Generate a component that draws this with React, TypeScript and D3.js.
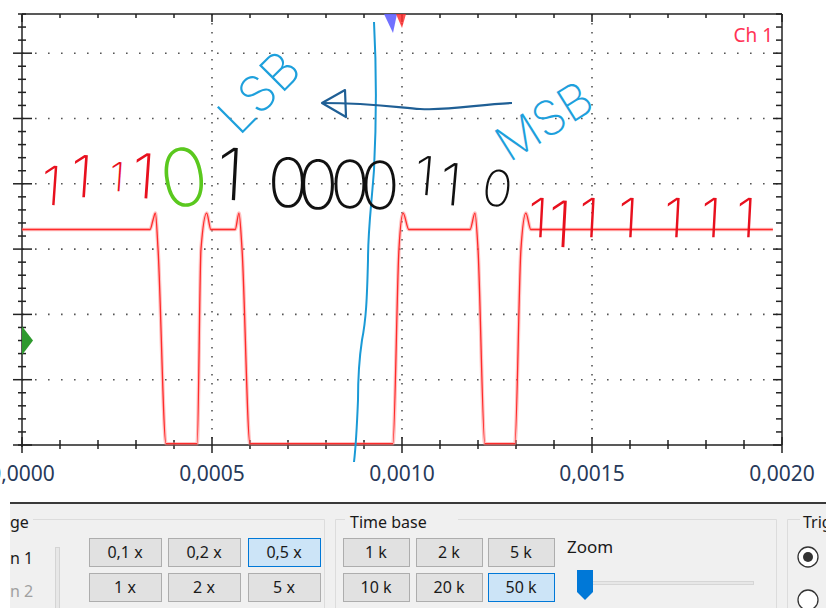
import React from "react";
import * as d3 from "d3";

// oscilloscope trace, Ch 1 (time in s, level in V)
const waveTime = [
  0, 0.000337, 0.000345, 0.000351, 0.000358, 0.000379, 0.000461, 0.000471, 0.000486, 0.000497,
  0.000561, 0.000571, 0.000579, 0.0006, 0.000976, 0.000992, 0.001003, 0.001018, 0.001179,
  0.001192, 0.0012, 0.001218, 0.001297, 0.001313, 0.001326, 0.001339, 0.001976,
];
const waveVolt = [
  3.3, 3.3, 3.45, 3.55, 3.0, 0.02, 0.02, 3.0, 3.55, 3.3, 3.3, 3.55, 3.0, 0.02, 0.02, 3.0, 3.55,
  3.3, 3.3, 3.55, 3.0, 0.02, 0.02, 3.0, 3.55, 3.3, 3.3,
];

const timeTicks = [0, 0.0005, 0.001, 0.0015, 0.002];
const timeLabels = ["0,0000", "0,0005", "0,0010", "0,0015", "0,0020"];
const voltMajors = [1, 2, 3, 4, 5, 6];

const gainButtons = ["0,1 x", "0,2 x", "0,5 x", "1 x", "2 x", "5 x"];
const timeButtons = ["1 k", "2 k", "5 k", "10 k", "20 k", "50 k"];
const gainSelected = "0,5 x";
const timeSelected = "50 k";

const W = 826;
const H = 608;
const L = 22, R = 782, T = 14, B = 445;

const x = d3.scaleLinear().domain([0, 0.002]).range([L, R]);
const y = d3.scaleLinear().domain([0, 6.6]).range([B, T]);

const hand = "Inter, Roboto, 'Noto Sans', sans-serif";
const ui = "'Noto Sans', 'Open Sans', sans-serif";

function Hand({ x, y, size, color, rot = 0, children }: any) {
  return (
    <text
      x={x}
      y={y}
      fontSize={size}
      fill={color}
      fontFamily={hand}
      fontWeight={200}
      textAnchor="middle"
      transform={rot ? `rotate(${rot} ${x} ${y})` : undefined}
    >
      {children}
    </text>
  );
}

function Button({ bx, by, w, label, selected }: any) {
  return (
    <g>
      <rect
        x={bx + 0.5}
        y={by + 0.5}
        width={w}
        height={28}
        fill={selected ? "#cce4f7" : "#e1e1e1"}
        stroke={selected ? "#0078d7" : "#adadad"}
        strokeWidth={1}
      />
      <text x={bx + w / 2} y={by + 20} textAnchor="middle" fontSize={16} fill="#1a1a1a" fontFamily={ui}>
        {label}
      </text>
    </g>
  );
}

export default function App() {
  const pts = waveTime.map((t, i) => [t, waveVolt[i]] as [number, number]);
  const line = d3
    .line<[number, number]>()
    .x((d) => x(d[0]))
    .y((d) => y(d[1]))
    .curve(d3.curveMonotoneX);
  const path = line(pts) || "";

  const xMinor = x.ticks(20);
  const yMinor = y.ticks(33);
  const isMajorY = (v: number) => Math.abs(v - Math.round(v)) < 1e-6;
  const isMajorX = (t: number) => timeTicks.some((m) => Math.abs(m - t) < 1e-9);

  const blueLine = "M374,22 C376,60 377,110 374,170 C371,210 368,230 368,260 C367,300 366,320 362,340 C359,360 358,380 358,400 C357,425 356,445 354,462";

  return (
    <svg width={W} height={H} style={{ position: "absolute", left: 0, top: 0, background: "#fff" }}>
      <rect x={0} y={0} width={W} height={H} fill="#fff" />

      {/* grid */}
      {voltMajors.map((v) => (
        <line key={"gy" + v} x1={L} x2={R} y1={y(v)} y2={y(v)} stroke="#555" strokeWidth={1.6} strokeDasharray="1.6 11.4" />
      ))}
      {timeTicks.slice(1, -1).map((t) => (
        <line key={"gx" + t} x1={x(t)} x2={x(t)} y1={T} y2={B} stroke="#555" strokeWidth={1.6} strokeDasharray="1.6 7.4" />
      ))}

      {/* frame */}
      <line x1={L} x2={R} y1={T} y2={T} stroke="#222" strokeWidth={1.5} />
      <line x1={R} x2={R} y1={T} y2={B} stroke="#222" strokeWidth={1.5} />
      <line x1={L} x2={L} y1={T} y2={B + 2} stroke="#222" strokeWidth={1.5} />
      <line x1={L - 4} x2={R} y1={B} y2={B} stroke="#222" strokeWidth={1.5} />

      {/* ticks */}
      {xMinor.map((t) => {
        const m = isMajorX(t);
        return (
          <g key={"xt" + t}>
            <line x1={x(t)} x2={x(t)} y1={B - (m ? 8 : 5)} y2={B + (m ? 8 : 4)} stroke="#222" strokeWidth={1.5} />
            <line x1={x(t)} x2={x(t)} y1={T} y2={T + (m ? 8 : 4)} stroke="#222" strokeWidth={1.5} />
          </g>
        );
      })}
      {yMinor.map((v) => {
        const m = isMajorY(v);
        return (
          <g key={"yt" + v}>
            <line x1={m ? L - 9 : L - 4} x2={m ? L + 10 : L + 4} y1={y(v)} y2={y(v)} stroke="#222" strokeWidth={1.5} />
            <line x1={R - (m ? 9 : 6)} x2={R} y1={y(v)} y2={y(v)} stroke="#222" strokeWidth={1.5} />
          </g>
        );
      })}

      {/* x labels */}
      {timeTicks.map((t, i) => (
        <text key={"xl" + t} x={x(t)} y={481} textAnchor="middle" fontSize={21} fill="#283a5a" fontFamily={ui}>
          {timeLabels[i]}
        </text>
      ))}

      {/* trace */}
      <path d={path} fill="none" stroke="#ff8a8a" strokeWidth={3.6} strokeOpacity={0.5} />
      <path d={path} fill="none" stroke="#ff2a2a" strokeWidth={1.3} />

      {/* markers */}
      <path d={`M${L},${y(1.82)} L${L + 11},${y(1.6)} L${L},${y(1.38)} Z`} fill="#2e9a2e" />
      <path d="M384,14 L397,14 L393,33 Z" fill="#6262ff" fillOpacity={0.9} />
      <path d="M396,14 L406,14 L402,28 Z" fill="#ff3030" fillOpacity={0.85} />
      <text x={773} y={42} textAnchor="end" fontSize={19} fill="#ff3355" fontFamily={ui}>
        Ch 1
      </text>

      {/* hand annotations */}
      <path d={blueLine} fill="none" stroke="#1a9ad6" strokeWidth={2} />
      <path d="M512,103 C480,104 450,111 420,109 C395,107 370,103 322,103" fill="none" stroke="#1f5f95" strokeWidth={2.2} />
      <path d="M345,90 L322,103 L346,117 Z" fill="none" stroke="#1f5f95" strokeWidth={2.2} strokeLinejoin="round" />

      <Hand x={50} y={205} size={54} color="#e8101e" rot={4}>1</Hand>
      <Hand x={80} y={197} size={58} color="#e8101e" rot={4}>1</Hand>
      <Hand x={116} y={191} size={40} color="#e8101e" rot={4}>1</Hand>
      <Hand x={142} y={198} size={62} color="#e8101e" rot={4}>1</Hand>
      <Hand x={188} y={206} size={80} color="#5ac81e" rot={-8}>0</Hand>
      <Hand x={229} y={200} size={72} color="#111" rot={3}>1</Hand>
      <Hand x={288} y={207} size={68} color="#111">0</Hand>
      <Hand x={318} y={209} size={68} color="#111">0</Hand>
      <Hand x={350} y={208} size={66} color="#111">0</Hand>
      <Hand x={380} y={209} size={66} color="#111">0</Hand>
      <Hand x={423} y={195} size={54} color="#111" rot={5}>1</Hand>
      <Hand x={449} y={205} size={58} color="#111" rot={5}>1</Hand>
      <Hand x={495} y={206} size={50} color="#111" rot={8}>0</Hand>
      {[537, 559, 588, 627, 673, 710, 745].map((cx, i) => (
        <Hand key={"r1" + i} x={cx} y={i === 1 ? 247 : 237} size={i === 1 ? 64 : 54} color="#e8101e" rot={3}>
          1
        </Hand>
      ))}
      <text
        x={239}
        y={137}
        fontSize={50}
        fill="#1ea0dc"
        fontFamily={hand}
        fontWeight={200}
        transform="rotate(-45 239 137)"
      >
        LSB
      </text>
      <text
        x={509}
        y={163}
        fontSize={48}
        fill="#1ea0dc"
        fontFamily={hand}
        fontWeight={200}
        transform="rotate(-32 509 163)"
      >
        MSB
      </text>

      {/* control panel */}
      <rect x={10} y={503} width={W - 10} height={H - 503} fill="#f0f0f0" />
      <line x1={10} x2={W} y1={503} y2={503} stroke="#3a3a3a" strokeWidth={2} />

      <path d={`M33,519.5 H324.5 V${H}`} fill="none" stroke="#dcdcdc" />
      <text x={10} y={528} fontSize={16} fill="#1a1a1a" fontFamily={ui}>ge</text>
      <text x={10} y={564} fontSize={16} fill="#1a1a1a" fontFamily={ui}>n 1</text>
      <text x={10} y={597} fontSize={16} fill="#a0a0a0" fontFamily={ui}>n 2</text>
      <rect x={55.5} y={547.5} width={4} height={70} fill="#e7e7e7" stroke="#d4d4d4" />

      {gainButtons.map((b, i) => (
        <Button key={b} bx={[89, 168, 248][i % 3]} by={i < 3 ? 538 : 573} w={72} label={b} selected={b === gainSelected} />
      ))}

      <path d={`M345,519.5 H335.5 V${H} M458,519.5 H776.5 V${H}`} fill="none" stroke="#dcdcdc" />
      <text x={350} y={528} fontSize={16} fill="#1a1a1a" fontFamily={ui}>Time base</text>
      {timeButtons.map((b, i) => (
        <Button key={b} bx={[343, 416, 488][i % 3]} by={i < 3 ? 538 : 573} w={66} label={b} selected={b === timeSelected} />
      ))}

      <text x={567} y={553} fontSize={17} fill="#1a1a1a" fontFamily={ui}>Zoom</text>
      <rect x={577.5} y={581.5} width={176} height={3} fill="#e7e7e7" stroke="#d6d6d6" />
      <path d="M577,570 H593 V592 L585,600 L577,592 Z" fill="#0078d7" />

      <path d={`M800,519.5 H787.5 V${H}`} fill="none" stroke="#dcdcdc" />
      <text x={803} y={528} fontSize={16} fill="#1a1a1a" fontFamily={ui}>Trig</text>
      <circle cx={808} cy={557} r={10} fill="#fff" stroke="#333" strokeWidth={1.3} />
      <circle cx={808} cy={557} r={5} fill="#333" />
      <circle cx={808} cy={600} r={10} fill="#fff" stroke="#333" strokeWidth={1.3} />
    </svg>
  );
}
